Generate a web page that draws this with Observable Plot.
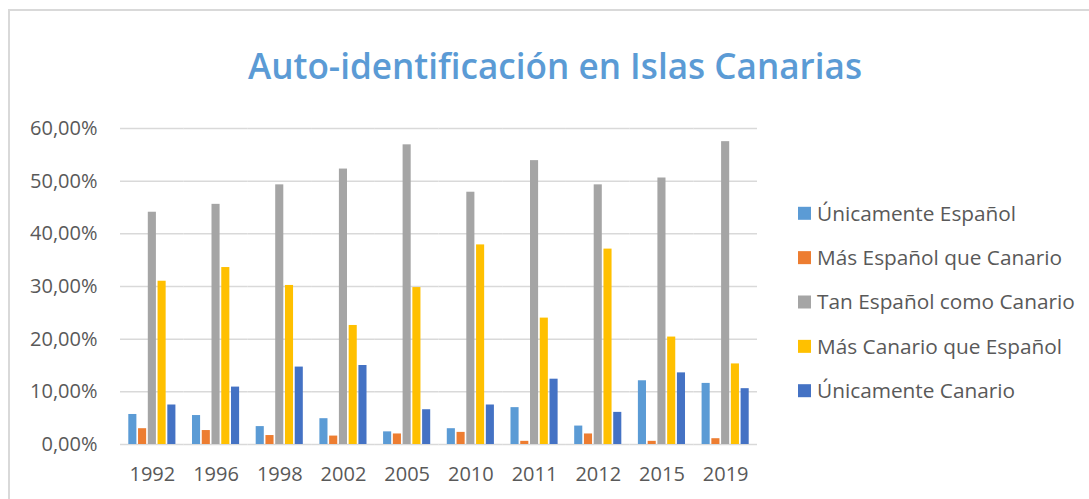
<!DOCTYPE html>
<html>
<head>
<meta charset="utf-8">
<script src="https://cdn.jsdelivr.net/npm/d3@7"></script>
<script src="https://cdn.jsdelivr.net/npm/@observablehq/plot@0.6"></script>
<style>
  html, body { margin: 0; padding: 0; background: #fff; }
  #wrap { position: relative; width: 1089px; height: 499px; overflow: hidden; font-family: "Open Sans", sans-serif; }
  #frame { position: absolute; left: 8px; top: 9px; width: 1200px; height: 600px; border: 2px solid #d9d9d9; box-sizing: border-box; }
  #chart { position: absolute; left: 0; top: 0; }
  #overlay { position: absolute; left: 0; top: 0; pointer-events: none; }
</style>
</head>
<body>
<div id="wrap">
  <div id="frame"></div>
  <div id="chart"></div>
  <svg id="overlay" width="1089" height="499"></svg>
</div>
<script>
const years = ["1992","1996","1998","2002","2005","2010","2011","2012","2015","2019"];
const series = ["Únicamente Español","Más Español que Canario","Tan Español como Canario","Más Canario que Español","Únicamente Canario"];
const colors = ["#5B9BD5","#ED7D31","#A5A5A5","#FFC000","#4472C4"];
const unicamenteEspanol = [5.7, 5.5, 3.4, 4.9, 2.4, 3.0, 7.0, 3.5, 12.1, 11.6];
const masEspanolQueCanario = [3.0, 2.65, 1.7, 1.6, 2.0, 2.3, 0.6, 2.0, 0.6, 1.1];
const tanEspanolComoCanario = [44.1, 45.6, 49.3, 52.3, 56.9, 47.9, 53.9, 49.3, 50.6, 57.5];
const masCanarioQueEspanol = [31.0, 33.6, 30.2, 22.6, 29.8, 37.9, 24.0, 37.1, 20.4, 15.3];
const unicamenteCanario = [7.5, 10.9, 14.7, 15.0, 6.6, 7.5, 12.4, 6.1, 13.6, 10.6];
const yTicks = [0, 10, 20, 30, 40, 50, 60];
const yTickLabels = ["0,00%","10,00%","20,00%","30,00%","40,00%","50,00%","60,00%"];
const title = "Auto-identificación en Islas Canarias";

const seriesValues = [unicamenteEspanol, masEspanolQueCanario, tanEspanolComoCanario, masCanarioQueEspanol, unicamenteCanario];
const data = [];
years.forEach((yr, i) => {
  series.forEach((s, j) => data.push({year: yr, serie: s, value: seriesValues[j][i]}));
});

const chart = Plot.plot({
  width: 1089,
  height: 499,
  marginLeft: 120,
  marginRight: 332,
  marginTop: 128,
  marginBottom: 55,
  style: {fontFamily: "'Open Sans', sans-serif", fontSize: "20px", color: "#595959", background: "transparent", overflow: "visible"},
  fx: {domain: years, paddingInner: 0, paddingOuter: 0, round: false, label: null, axis: "bottom", tickSize: 0, tickPadding: 22},
  x: {domain: series, paddingInner: 0.17, paddingOuter: 0.85, round: false, axis: null},
  y: {domain: [0, 60], ticks: yTicks, tickFormat: d => yTickLabels[yTicks.indexOf(d)], tickSize: 0, tickPadding: 23, label: null},
  color: {domain: series, range: colors},
  marks: [
    Plot.ruleY(yTicks, {stroke: "#d9d9d9", strokeWidth: 1.5}),
    Plot.barY(data, {fx: "year", x: "serie", y: "value", fill: "serie"})
  ]
});
document.getElementById("chart").appendChild(chart);

const ov = d3.select("#overlay");
ov.append("text")
  .attr("x", 555).attr("y", 78.5)
  .attr("text-anchor", "middle")
  .attr("font-family", "'Open Sans', sans-serif")
  .attr("font-weight", 600)
  .attr("font-size", 36)
  .attr("fill", "#5B9BD5")
  .attr("textLength", 614)
  .attr("lengthAdjust", "spacingAndGlyphs")
  .text(title);

const lg = ov.append("g");
series.forEach((s, i) => {
  const cy = 213.3 + i * 44.35;
  lg.append("rect").attr("x", 798).attr("y", cy - 6.5).attr("width", 13).attr("height", 13).attr("fill", colors[i]);
  lg.append("text").attr("x", 817).attr("y", cy + 7.4)
    .attr("font-family", "'Open Sans', sans-serif").attr("font-size", 20.8).attr("fill", "#595959")
    .text(s);
});
</script>
</body>
</html>
